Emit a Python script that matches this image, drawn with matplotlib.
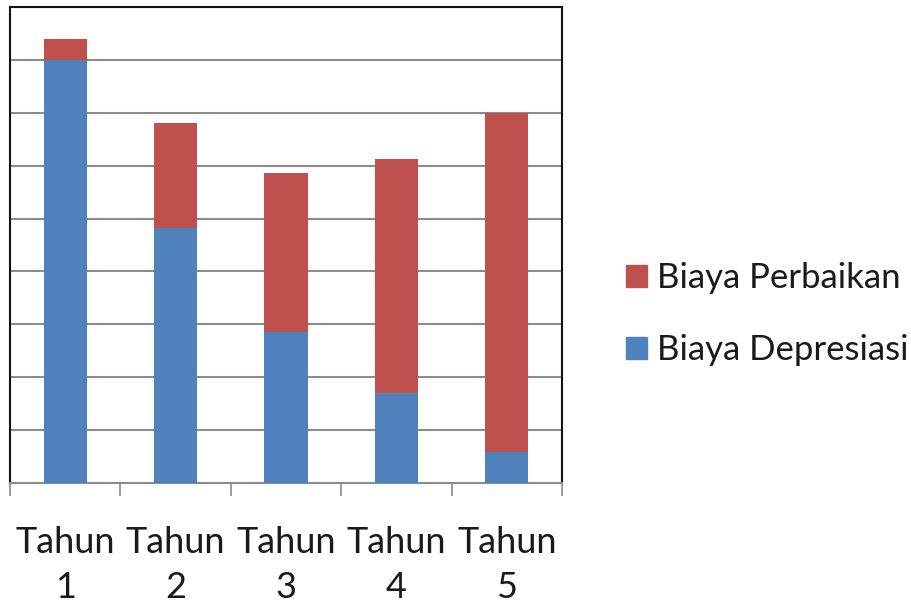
import matplotlib.pyplot as plt
import matplotlib.patches as mpatches
import numpy as np

plt.rcParams['font.family'] = ['Lato', 'DejaVu Sans']

years = ['Tahun\n1', 'Tahun\n2', 'Tahun\n3', 'Tahun\n4', 'Tahun\n5']
depresiasi = [8.0, 4.82, 2.85, 1.71, 0.58]
perbaikan = [0.4, 1.98, 3.02, 4.41, 6.41]

blue = '#4F81BD'
red = '#C0504D'

fig = plt.figure(figsize=(9.12, 6.08), dpi=100)
ax = fig.add_axes([10 / 912, 125 / 608, 552 / 912, 476 / 608])

x = np.arange(len(years))
ax.bar(x, depresiasi, width=0.39, color=blue, zorder=3)
ax.bar(x, perbaikan, width=0.39, bottom=depresiasi, color=red, zorder=3)

ax.set_xlim(-0.5, len(years) - 0.5)
ax.set_ylim(0, 9)

# horizontal gridlines, no y labels
ax.set_yticks(np.arange(1, 9))
ax.yaxis.grid(True, color='#8c8c8c', linewidth=1.5, zorder=1)
ax.tick_params(axis='y', length=0, labelleft=False)

# category labels at centres, tick marks at boundaries
ax.set_xticks(x)
ax.set_xticklabels(years, fontsize=26, linespacing=1.45, color='#1a1a1a')
ax.set_xticks(np.arange(-0.5, len(years)), minor=True)
ax.tick_params(axis='x', which='major', length=0, pad=31)
ax.tick_params(axis='x', which='minor', length=9, width=1.2, color='#8c8c8c')

for side in ['left', 'right', 'top']:
    ax.spines[side].set_color('#111111')
    ax.spines[side].set_linewidth(1.5)
ax.spines['bottom'].set_color('#8c8c8c')
ax.spines['bottom'].set_linewidth(1.5)

handles = [mpatches.Patch(color=red, label='Biaya Perbaikan'),
           mpatches.Patch(color=blue, label='Biaya Depresiasi')]
fig.legend(handles=handles, loc='center left', bbox_to_anchor=(0.652, 0.483),
           frameon=False, fontsize=25, handlelength=0.6, handleheight=0.6,
           handletextpad=0.3, labelspacing=1.15, labelcolor='#1a1a1a')

fig.savefig('out.png')
